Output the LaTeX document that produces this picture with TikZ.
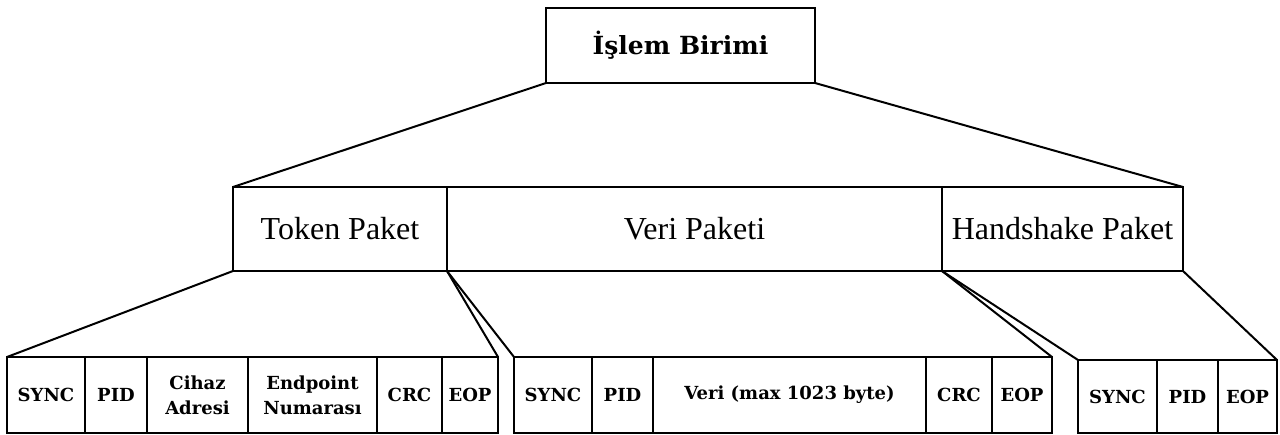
\documentclass[tikz,border=0pt]{standalone}
\usepackage{fontspec}
\setmainfont{Liberation Serif}
\newfontfamily\slabfont{DejaVu Serif}
\begin{document}
\begin{tikzpicture}[x=1pt,y=-1pt,
  box/.style={draw=black, line width=2pt, rectangle, inner sep=0pt, outer sep=0pt},
  topbox/.style={box, font=\slabfont\bfseries\fontsize{25}{29}\selectfont},
  midbox/.style={box, font=\fontsize{32}{36}\selectfont},
  cellbox/.style={box, align=center, font=\slabfont\bfseries\fontsize{18}{25}\selectfont},
  link/.style={draw=black, line width=2pt, line cap=round}]
\useasboundingbox (0,0) rectangle (1280,435);

% top level unit
\node[topbox, minimum width=269pt, minimum height=75pt] (top) at (680.5,45.5) {İşlem Birimi};

% packet row
\node[midbox, minimum width=214pt, minimum height=84pt] (token) at (340,229) {Token Paket};
\node[midbox, minimum width=495pt, minimum height=84pt] (veri) at (694.5,229) {Veri Paketi};
\node[midbox, minimum width=241pt, minimum height=84pt] (hand) at (1062.5,229) {Handshake Paket};

% token packet fields
\node[cellbox, minimum width=78pt, minimum height=76pt] (t1) at (46,395) {SYNC};
\node[cellbox, minimum width=62pt, minimum height=76pt] (t2) at (116,395) {PID};
\node[cellbox, minimum width=101pt, minimum height=76pt] (t3) at (197.5,395) {Cihaz\\Adresi};
\node[cellbox, minimum width=129pt, minimum height=76pt] (t4) at (312.5,395) {Endpoint\\Numarası};
\node[cellbox, minimum width=65pt, minimum height=76pt] (t5) at (409.5,395) {CRC};
\node[cellbox, minimum width=56pt, minimum height=76pt] (t6) at (470,395) {EOP};

% data packet fields
\node[cellbox, minimum width=78pt, minimum height=76pt] (v1) at (553,395) {SYNC};
\node[cellbox, minimum width=61pt, minimum height=76pt] (v2) at (622.5,395) {PID};
\node[cellbox, minimum width=273pt, minimum height=76pt] (v3) at (789.5,395) {Veri (max 1023 byte)};
\node[cellbox, minimum width=66pt, minimum height=76pt] (v4) at (959,395) {CRC};
\node[cellbox, minimum width=60pt, minimum height=76pt] (v5) at (1022,395) {EOP};

% handshake packet fields
\node[cellbox, minimum width=79pt, minimum height=73pt] (h1) at (1117.5,396.5) {SYNC};
\node[cellbox, minimum width=61pt, minimum height=73pt] (h2) at (1187.5,396.5) {PID};
\node[cellbox, minimum width=59pt, minimum height=73pt] (h3) at (1247.5,396.5) {EOP};

% expansion lines
\draw[link] (top.south west) -- (token.north west);
\draw[link] (top.south east) -- (hand.north east);
\draw[link] (token.south west) -- (t1.north west);
\draw[link] (token.south east) -- (t6.north east);
\draw[link] (veri.south west) -- (v1.north west);
\draw[link] (veri.south east) -- (v5.north east);
\draw[link] (hand.south west) -- (h1.north west);
\draw[link] (hand.south east) -- (h3.north east);
\end{tikzpicture}
\end{document}
